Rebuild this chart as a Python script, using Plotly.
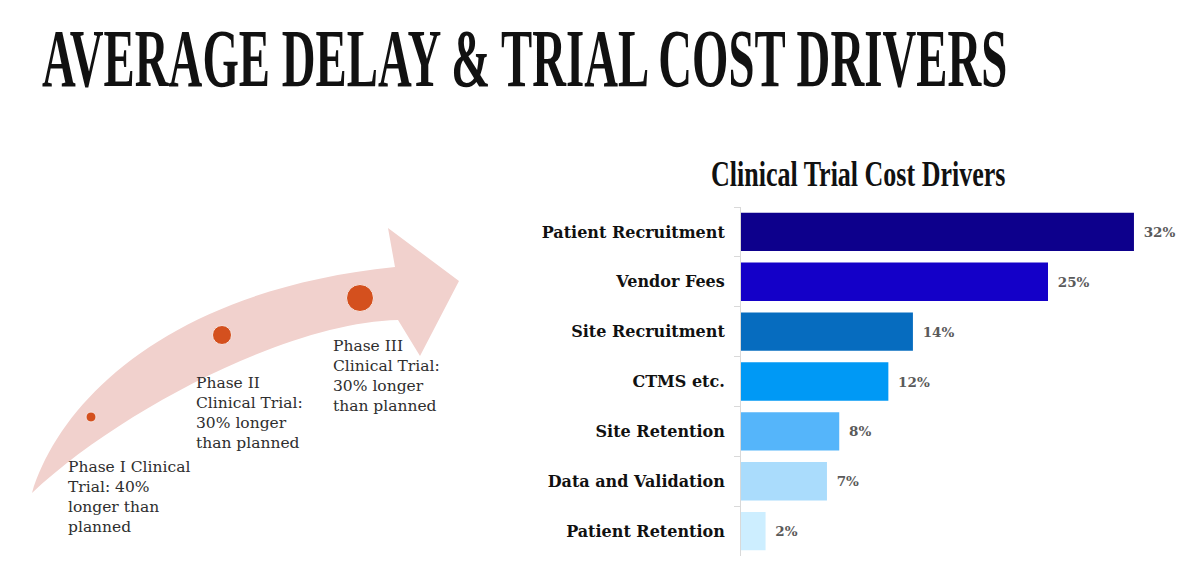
import plotly.graph_objects as go

# --- cost drivers (right chart) ---
drivers = ["Patient Recruitment", "Vendor Fees", "Site Recruitment", "CTMS etc.",
           "Site Retention", "Data and Validation", "Patient Retention"]
share_pct = [32, 25, 14, 12, 8, 7, 2]
bar_colors = ["#0d008c", "#1400c8", "#066cbf", "#0099f5", "#55b5fa", "#aadcfc", "#cdeeff"]

# --- trial phase delays (left diagram) ---
phases = ["Phase I", "Phase II", "Phase III"]
delay_pct = [40, 30, 30]
phase_text = [
    f"{phases[0]} Clinical<br>Trial: {delay_pct[0]}%<br>longer than<br>planned",
    f"{phases[1]}<br>Clinical Trial:<br>{delay_pct[1]}% longer<br>than planned",
    f"{phases[2]}<br>Clinical Trial:<br>{delay_pct[2]}% longer<br>than planned",
]

W, H = 1202, 562

# layout of the diagram, in pixels of the page
dot_x = [91, 222, 360]
dot_y = [417, 335, 298]
dot_size = [10, 19, 27]
note_x = [66, 194, 331]
note_y = [456, 372, 335]
arrow_path = ("M 32,493 C 60,400 170,290 395,267 L 388,228 L 459,281 "
              "L 420,356 L 398,320 C 290,322 120,410 32,493 Z")

px_per_pct = 12.28
axis_left = 741
x_max = 36.6

fig = go.Figure()

fig.add_trace(go.Bar(
    x=share_pct, y=drivers, orientation="h",
    marker=dict(color=bar_colors, line=dict(width=0)),
    text=[f"\u2002{v}%" for v in share_pct], textposition="outside",
    textfont=dict(family="DejaVu Serif", size=13.5, color="#5a5a5a", weight="bold"),
    cliponaxis=False, hoverinfo="skip",
))

fig.add_trace(go.Scatter(
    x=dot_x, y=dot_y, mode="markers", xaxis="x2", yaxis="y2",
    marker=dict(size=dot_size, color="#d4501e", opacity=1,
                line=dict(width=1, color="#f7e4e0")),
    hoverinfo="skip",
))

fig.add_shape(type="path", path=arrow_path, xref="x2", yref="y2",
              fillcolor="#f1d1cd", line=dict(width=0), layer="below")

# titles first: the page script stretches annotations 0 and 1 vertically
fig.add_annotation(text="AVERAGE DELAY & TRIAL COST DRIVERS", xref="x2", yref="y2",
                   x=524, y=58, xanchor="center", yanchor="middle", showarrow=False,
                   font=dict(family="Liberation Serif", size=46.8, color="#111111", weight="bold"))
fig.add_annotation(text="Clinical Trial Cost Drivers", xref="x2", yref="y2",
                   x=858, y=174, xanchor="center", yanchor="middle", showarrow=False,
                   font=dict(family="Liberation Serif", size=26, color="#111111", weight="bold"))

for i in range(len(phases)):
    fig.add_annotation(text=phase_text[i], xref="x2", yref="y2",
                       x=note_x[i], y=note_y[i], xanchor="left", yanchor="top",
                       align="left", showarrow=False,
                       font=dict(family="DejaVu Serif", size=15.5, color="#2e2e2e"))

fig.update_layout(
    width=W, height=H, margin=dict(l=0, r=0, t=0, b=0),
    paper_bgcolor="white", plot_bgcolor="rgba(0,0,0,0)",
    showlegend=False, bargap=0.23,
    xaxis=dict(domain=[axis_left / W, (axis_left + x_max * px_per_pct) / W],
               range=[0, x_max], visible=False),
    yaxis=dict(domain=[1 - 556 / H, 1 - 207 / H], range=[6.5, -0.5],
               showline=True, linecolor="#d9d9d9", linewidth=1,
               ticks="outside", tickson="boundaries", ticklen=6, tickcolor="#d9d9d9",
               ticklabelstandoff=12, showgrid=False,
               tickfont=dict(family="DejaVu Serif", size=16, color="#111111", weight="bold")),
    xaxis2=dict(domain=[0, 1], range=[0, W], visible=False, anchor="y2"),
    yaxis2=dict(domain=[0, 1], range=[H, 0], visible=False, anchor="x2"),
)

page_js = """
document.body.style.margin = '0';
var s = document.createElement('style');
s.textContent =
  '.annotation[data-index="0"] .annotation-text {transform-box: fill-box; transform-origin: center; transform: scaleY(1.75);}' +
  '.annotation[data-index="1"] .annotation-text {transform-box: fill-box; transform-origin: center; transform: scaleY(1.4);}';
document.head.appendChild(s);
"""

fig.write_html("out.html", post_script=page_js, config={"displayModeBar": False})
